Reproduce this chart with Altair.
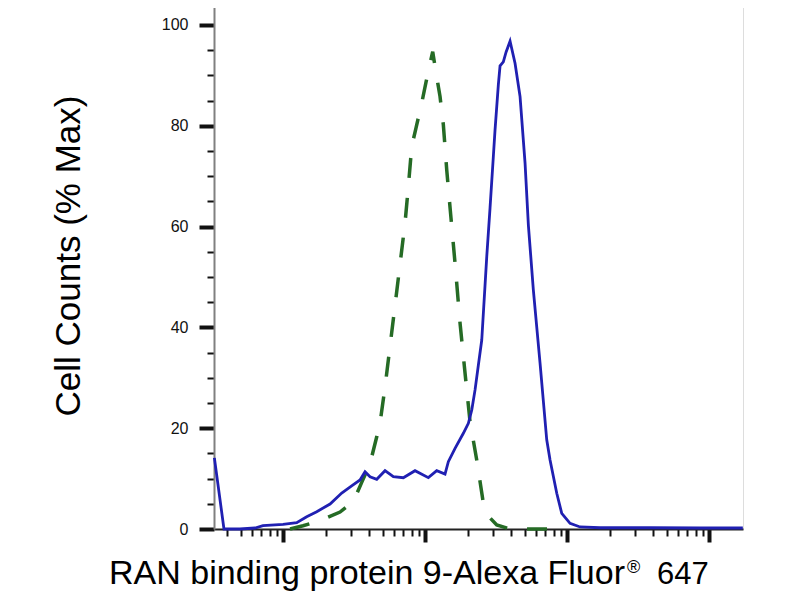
import altair as alt
import pandas as pd

# Blue (antibody) histogram: fluorescence intensity vs % of max
blue_x = [3.27, 3.82, 4.95, 6.32, 7.19, 9.95, 12.43, 14.61, 17.19, 21.33, 25.78, 30.46,
          34.68, 37.62, 40.8, 45.48, 52.03, 59.52, 70.0, 84.6, 105.0, 120.3, 137.6, 145.2,
          161.9, 185.2, 200.9, 212.3, 223.9, 236.2, 249.6, 270.6, 285.5, 301.2, 309.6,
          326.6, 335.8, 354.2, 370.1, 395.0, 428.2, 464.5, 503.7, 531.5, 576.3, 642.3,
          715.8, 755.3, 842.1, 913.1, 1044.7, 1228.6, 1699, 3822, 8602, 17200]
blue_y = [14.1, 0.0, 0.0, 0.2, 0.65, 0.93, 1.25, 2.44, 3.43, 4.96, 7.14, 8.6,
          9.72, 11.37, 10.38, 9.86, 11.57, 10.38, 10.18, 11.57, 10.18, 11.57, 10.91, 13.35,
          16.01, 18.99, 20.97, 23.6, 27.6, 32.5, 37.5, 54.0, 63.7, 73.9, 79.2,
          88.1, 91.9, 92.7, 94.6, 96.8, 92.4, 85.8, 72.6, 60.3, 47.4, 32.9,
          17.7, 13.7, 7.08, 3.1, 1.13, 0.4, 0.25, 0.25, 0.2, 0.2]

# Green (isotype control) histogram
green_x = [11.15, 13.76, 18.14, 25.08, 31.12, 35.84, 40.8, 45.48, 47.97, 52.03, 61.2,
           71.94, 75.9, 80.2, 86.0, 94.3, 101.2, 108.0, 112.7, 120.3, 126.9, 133.9,
           141.5, 150.0, 161.9, 175.6, 190.4, 206.4, 230.1, 256.2, 285.5, 318.3, 395, 888.5]
green_y = [0.0, 0.65, 1.65, 3.37, 5.42, 9.4, 13.0, 18.3, 21.0, 28.2, 44.4,
           60.7, 67.9, 75.9, 79.6, 84.5, 88.7, 92.4, 94.7, 89.7, 85.8, 80.2,
           71.2, 63.1, 52.7, 40.8, 30.9, 21.3, 13.7, 5.1, 2.2, 0.8, 0.0, 0.0]

y_tick_values = [0, 5, 10, 15, 20, 25, 30, 35, 40, 45, 50, 55, 60, 65, 70, 75, 80, 85, 90, 95, 100]
x_tick_values = [4, 5, 6, 7, 8, 9,
                 10, 20, 30, 40, 50, 60, 70, 80, 90,
                 100, 200, 300, 400, 500, 600, 700, 800, 900,
                 1000, 2000, 3000, 4000, 5000, 6000, 7000, 8000, 9000,
                 10000]
x_decades = [10, 100, 1000, 10000]

x_title_main = "RAN binding protein 9-Alexa Fluor"
x_title_mark = "®"
x_title_tail = "647"
y_title = "Cell Counts (% Max)"

FONT = "Liberation Sans"

blue_df = pd.DataFrame({"x": blue_x, "y": blue_y})
green_df = pd.DataFrame({"x": green_x, "y": green_y})

decade_test = "indexof(" + str(x_decades) + ", datum.value) >= 0"

x_enc = alt.X(
    "x:Q",
    scale=alt.Scale(type="log", domain=[3.25, 17250], nice=False),
    axis=alt.Axis(
        values=x_tick_values,
        labels=False,
        title=None,
        grid=False,
        domainColor="#222222",
        domainWidth=2,
        tickColor="#111111",
        tickSize={"condition": {"test": decade_test, "value": 13}, "value": 7},
        tickWidth={"condition": {"test": decade_test, "value": 4}, "value": 2},
    ),
)
y_enc = alt.Y(
    "y:Q",
    scale=alt.Scale(domain=[0, 104.56], nice=False, zero=True),
    axis=alt.Axis(
        values=y_tick_values,
        labelExpr="datum.value % 20 === 0 ? datum.label : ''",
        grid=False,
        domainColor="#808080",
        domainWidth=2,
        tickColor="#111111",
        tickSize={"condition": {"test": "datum.value % 20 === 0", "value": 15}, "value": 7},
        tickWidth={"condition": {"test": "datum.value % 20 === 0", "value": 4}, "value": 2},
        labelFont=FONT,
        labelFontSize=16,
        labelColor="#111111",
        labelPadding=11,
        title=y_title,
        titleFont=FONT,
        titleFontSize=35,
        titleFontWeight="normal",
        titleColor="#000000",
        titleAngle=270,
        titleAlign="center",
        titleBaseline="middle",
        titleX=-146,
        titleY=253.5,
    ),
)

green = alt.Chart(green_df).mark_line(
    color="#256b25", strokeWidth=3.5, strokeDash=[20, 20]
).encode(x=x_enc, y=y_enc)

blue = alt.Chart(blue_df).mark_line(
    color="#2020b2", strokeWidth=2.8
).encode(x=x_enc, y=y_enc)

t_main = alt.Chart(pd.DataFrame({"t": [x_title_main]})).mark_text(
    font=FONT, fontSize=34, align="right", baseline="alphabetic", color="#000000"
).encode(text="t:N", x=alt.value(411), y=alt.value(582))
t_mark = alt.Chart(pd.DataFrame({"t": [x_title_mark]})).mark_text(
    font=FONT, fontSize=18, align="left", baseline="alphabetic", color="#000000"
).encode(text="t:N", x=alt.value(413), y=alt.value(571))
t_tail = alt.Chart(pd.DataFrame({"t": [x_title_tail]})).mark_text(
    font=FONT, fontSize=31, align="left", baseline="alphabetic", color="#000000"
).encode(text="t:N", x=alt.value(443), y=alt.value(582))

chart = alt.layer(green, blue, t_main, t_mark, t_tail).properties(
    width=529,
    height=527,
    autosize=alt.AutoSizeParams(type="none"),
    padding={"left": 206, "top": -6, "right": 40, "bottom": 63},
).configure_view(stroke="#8a8a8a", strokeWidth=2).configure(background="white")

chart.save("out.html", embed_options={"renderer": "svg", "actions": False})
